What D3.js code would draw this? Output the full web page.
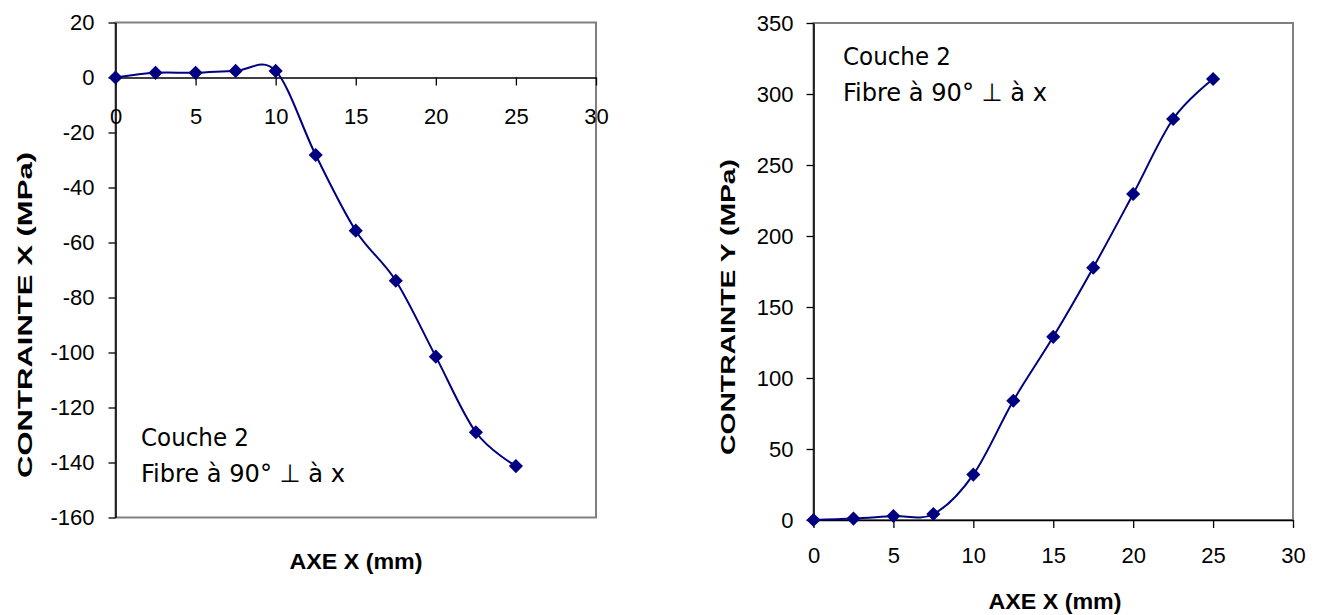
<!DOCTYPE html>
<html>
<head>
<meta charset="utf-8">
<script src="https://cdn.jsdelivr.net/npm/d3@7"></script>
<style>
  body { margin: 0; background: #fff; }
  svg { display: block; }
  .tick text { font-family: "Liberation Sans", Arial, sans-serif; font-size: 22px; fill: #000; }
  .title { font-family: "Liberation Sans", Arial, sans-serif; font-weight: bold; font-size: 22px; }
  .note { font-family: "DejaVu Sans Condensed", "DejaVu Sans", sans-serif; font-stretch: condensed; font-size: 25px; }
</style>
</head>
<body>
<div id="chart"></div>
<script>
// distance along the part (mm)
const positions = [0, 2.5, 5, 7.5, 10, 12.5, 15, 17.5, 20, 22.5, 25];
// stress readings (MPa)
const stressX = [0, 1.7, 1.7, 2.4, 2.4, -28.2, -55.7, -73.9, -101.5, -129, -141.3];
const stressY = [0, 1, 2.8, 4.2, 32, 84, 129, 177.7, 229.6, 282.4, 310.6];

const xTicks = [0, 5, 10, 15, 20, 25, 30];
const leftYTicks = [20, 0, -20, -40, -60, -80, -100, -120, -140, -160];
const rightYTicks = [0, 50, 100, 150, 200, 250, 300, 350];
const noteLines = ['Couche 2', 'Fibre à 90° ⊥ à x'];

const width = 1323;
const height = 615;
const lineColor = '#000080';

const svg = d3.select('#chart')
  .append('svg')
  .attr('width', width)
  .attr('height', height);

const marker = d3.symbol(d3.symbolSquare, 100);
const plain = d => String(d); // hyphen minus like the original, not U+2212

function drawChart(opts) {
  const g = svg.append('g');

  const x = d3.scaleLinear().domain([0, 30]).range([opts.left, opts.right]);
  const y = d3.scaleLinear().domain(opts.yDomain).range([opts.bottom, opts.top]);

  // plot frame (grey), left axis drawn in black afterwards
  g.append('rect')
    .attr('x', opts.left)
    .attr('y', opts.top)
    .attr('width', opts.right - opts.left)
    .attr('height', opts.bottom - opts.top)
    .attr('fill', 'none')
    .attr('stroke', '#808080')
    .attr('stroke-width', 2);

  const yAxis = g.append('g')
    .attr('transform', `translate(${opts.left},0)`)
    .call(d3.axisLeft(y).tickValues(opts.yTicks).tickFormat(plain)
      .tickSize(7).tickPadding(opts.yPad).tickSizeOuter(0));
  yAxis.selectAll('.tick text').attr('dy', '0.34em');

  g.append('g')
    .attr('transform', `translate(0,${y(0)})`)
    .call(d3.axisBottom(x).tickValues(xTicks).tickFormat(plain)
      .tickSize(8).tickPadding(opts.xPad).tickSizeOuter(0));

  g.selectAll('.domain').attr('stroke', '#000').attr('stroke-width', 1.5);
  g.selectAll('.tick line').attr('stroke', '#000').attr('stroke-width', 1.3);

  // series
  const line = d3.line()
    .x((d, i) => x(positions[i]))
    .y(d => y(d))
    .curve(d3.curveCardinal.tension(0));

  g.append('path')
    .datum(opts.values)
    .attr('d', line)
    .attr('fill', 'none')
    .attr('stroke', lineColor)
    .attr('stroke-width', 2);

  g.selectAll('.pt')
    .data(opts.values)
    .join('path')
    .attr('class', 'pt')
    .attr('d', marker)
    .attr('transform', (d, i) => `translate(${x(positions[i])},${y(d)}) rotate(45)`)
    .attr('fill', lineColor);

  // axis titles
  g.append('text')
    .attr('class', 'title')
    .attr('x', opts.xTitle[0])
    .attr('y', opts.xTitle[1])
    .attr('text-anchor', 'middle')
    .attr('textLength', 133)
    .attr('lengthAdjust', 'spacingAndGlyphs')
    .text('AXE X (mm)');

  g.append('text')
    .attr('class', 'title')
    .attr('transform', `translate(${opts.yTitle[0]},${opts.yTitle[1]}) rotate(-90)`)
    .attr('text-anchor', 'middle')
    .attr('textLength', opts.yTitleLen)
    .attr('lengthAdjust', 'spacingAndGlyphs')
    .style('font-size', '20px')
    .text(opts.yLabel);

  // note inside the plot
  g.selectAll('.note')
    .data(noteLines)
    .join('text')
    .attr('class', 'note')
    .attr('x', opts.note[0])
    .attr('y', (d, i) => opts.note[1] + i * 36)
    .attr('textLength', (d, i) => i === 0 ? 108 : 204)
    .attr('lengthAdjust', 'spacingAndGlyphs')
    .text(d => d);
}

drawChart({
  left: 115.5, right: 596, top: 22.5, bottom: 517.5,
  yDomain: [-160, 20], yTicks: leftYTicks, values: stressX,
  yPad: 14, xPad: 23,
  xTitle: [356, 569], yTitle: [32, 315], yTitleLen: 326,
  yLabel: 'CONTRAINTE X  (MPa)',
  note: [141, 446]
});

drawChart({
  left: 813.5, right: 1293, top: 23, bottom: 520,
  yDomain: [0, 350], yTicks: rightYTicks, values: stressY,
  yPad: 13, xPad: 19,
  xTitle: [1055, 609], yTitle: [735, 307], yTitleLen: 296,
  yLabel: 'CONTRAINTE Y (MPa)',
  note: [843, 65]
});
</script>
</body>
</html>
